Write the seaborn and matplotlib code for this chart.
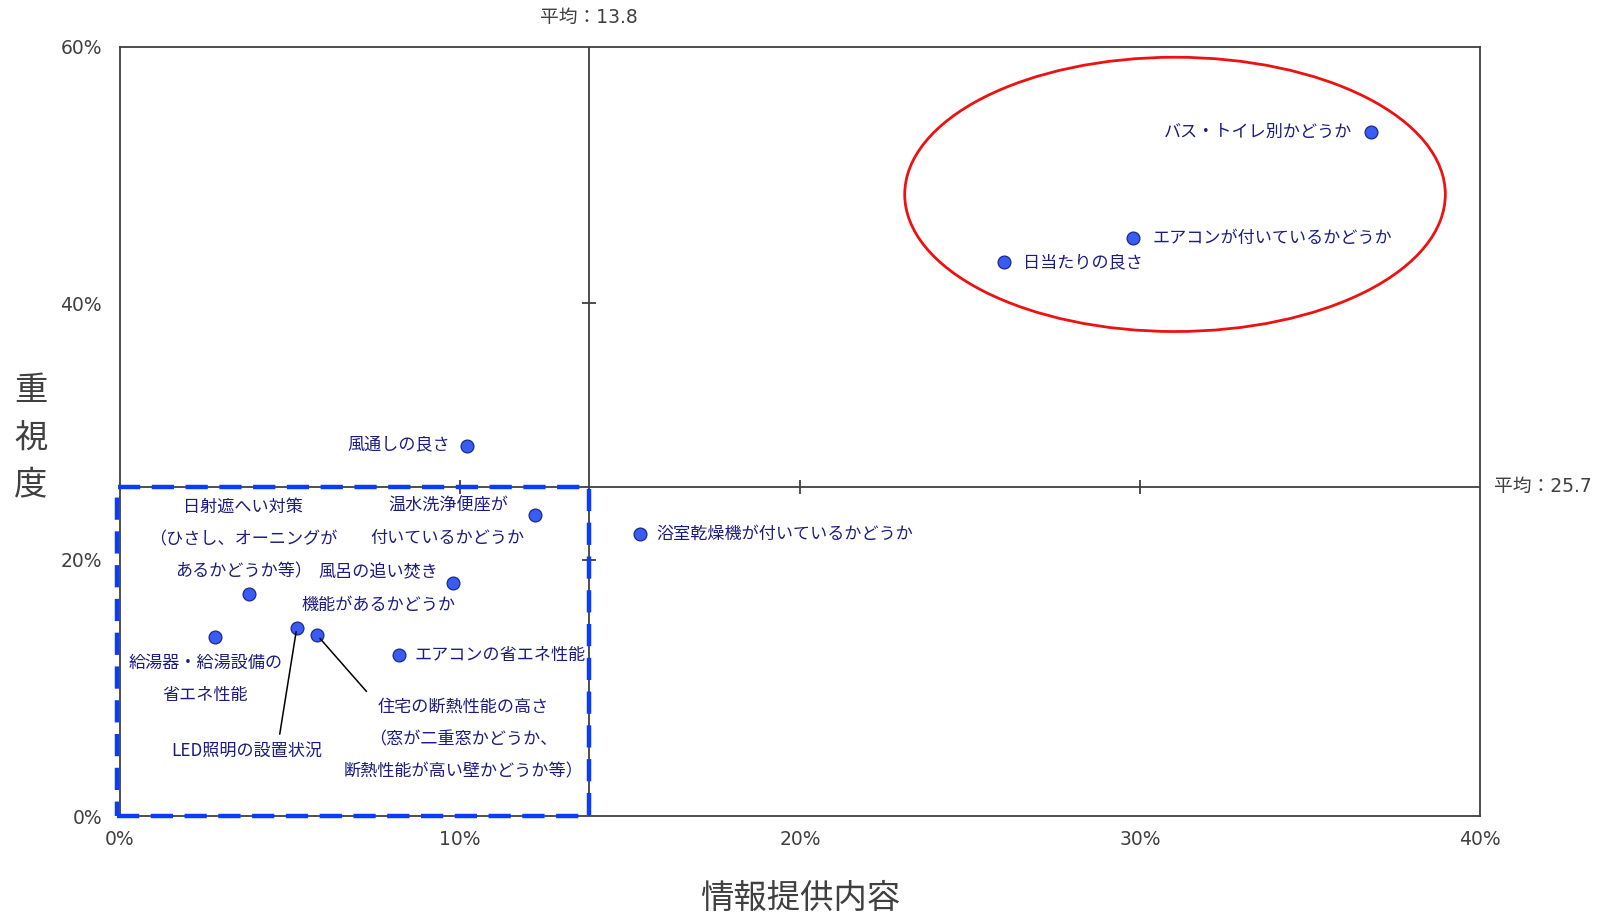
import matplotlib
matplotlib.use("Agg")
import matplotlib.pyplot as plt
from matplotlib.patches import Ellipse, Rectangle
import seaborn as sns
import pandas as pd

# ---- data ----
items = [
    "バス・トイレ別かどうか",
    "エアコンが付いているかどうか",
    "日当たりの良さ",
    "風通しの良さ",
    "温水洗浄便座が\n付いているかどうか",
    "浴室乾燥機が付いているかどうか",
    "日射遮へい対策\n（ひさし、オーニングが\nあるかどうか等）",
    "風呂の追い焚き\n機能があるかどうか",
    "給湯器・給湯設備の\n省エネ性能",
    "エアコンの省エネ性能",
    "LED照明の設置状況",
    "住宅の断熱性能の高さ\n（窓が二重窓かどうか、\n断熱性能が高い壁かどうか等）",
]
info_pct = [36.8, 29.8, 26.0, 10.2, 12.2, 15.3, 3.8, 9.8, 2.8, 8.2, 5.2, 5.8]
importance_pct = [53.4, 45.1, 43.2, 28.9, 23.5, 22.0, 17.3, 18.2, 14.0, 12.6, 14.7, 14.1]
mean_x = 13.8
mean_y = 25.7
x_ticks = [0, 10, 20, 30, 40]
y_ticks = [0, 20, 40, 60]
x_label = "情報提供内容"
y_label = "重視度"

# ---- label placement (pixel offsets, alignment, leader line) ----
label_style = [
    ((-19, 0), "right", None),
    ((19, 0), "left", None),
    ((19, 0), "left", None),
    ((-17, 0), "right", None),
    ((-87, -7), "center", None),
    ((16, 0), "left", None),
    ((-6, 55), "center", None),
    ((-75, -6), "center", None),
    ((-10, -42), "center", None),
    ((16, 0), "left", None),
    ((-50, -123), "center", (0.71, 1.0)),
    ((146, -104), "center", (0.12, 1.0)),
]

sns.set_theme(style="white")
plt.rcParams["font.family"] = ["Noto Sans CJK JP", "DejaVu Sans"]
num_family = ["DejaVu Sans", "Noto Sans CJK JP"]

df = pd.DataFrame({"item": items, "x": info_pct, "y": importance_pct})

fig = plt.figure(figsize=(16.05, 9.15), dpi=100)
ax = fig.add_axes([120 / 1605, 99 / 915, 1360 / 1605, 769 / 915])

axis_col = "#404040"
text_col = "#1c1c80"

sns.scatterplot(data=df, x="x", y="y", ax=ax, s=85, color="#3a5cf2",
                edgecolor="#1a2a8a", linewidth=0.9, zorder=5, legend=False)

ax.set_xlim(x_ticks[0], x_ticks[-1])
ax.set_ylim(y_ticks[0], y_ticks[-1])
ax.set_xticks(x_ticks)
ax.set_yticks(y_ticks)
ax.set_xticklabels([f"{v}%" for v in x_ticks], family=num_family)
ax.set_yticklabels([f"{v}%" for v in y_ticks], family=num_family)
ax.tick_params(axis="both", length=0, labelsize=13.5, colors=axis_col)
ax.tick_params(axis="x", pad=10)
ax.tick_params(axis="y", pad=13)
ax.set_xlabel("")
ax.set_ylabel("")
for sp in ax.spines.values():
    sp.set_color(axis_col)
    sp.set_linewidth(1.3)

# mean lines with cross ticks
ax.axvline(mean_x, color=axis_col, lw=1.3, zorder=2)
ax.axhline(mean_y, color=axis_col, lw=1.3, zorder=2)
ax.plot(x_ticks[1:-1], [mean_y] * (len(x_ticks) - 2), linestyle="none",
        marker="|", markersize=10, markeredgewidth=1.3, color=axis_col, zorder=2)
ax.plot([mean_x] * (len(y_ticks) - 2), y_ticks[1:-1], linestyle="none",
        marker="_", markersize=10, markeredgewidth=1.3, color=axis_col, zorder=2)

ax.annotate(f"平均：{mean_x}", xy=(mean_x, y_ticks[-1]), xytext=(0, 30),
            textcoords="offset pixels", ha="center", va="center",
            fontsize=13.5, color=axis_col, family=num_family, annotation_clip=False)
ax.annotate(f"平均：{mean_y}", xy=(x_ticks[-1], mean_y), xytext=(14, 0),
            textcoords="offset pixels", ha="left", va="center",
            fontsize=13.5, color=axis_col, family=num_family, annotation_clip=False)

# labels
for name, x, y, (off, ha, rel) in zip(items, info_pct, importance_pct, label_style):
    kw = {}
    if rel is not None:
        kw["arrowprops"] = dict(arrowstyle="-", color="black", lw=1.1,
                                relpos=rel, shrinkA=3, shrinkB=3)
    ax.annotate(name, xy=(x, y), xytext=off, textcoords="offset pixels",
                ha=ha, va="center", multialignment="center",
                fontsize=12.3, color=text_col, linespacing=2.03, zorder=6, **kw)

# highlight shapes
ax.add_patch(Ellipse((31.03, 48.5), 15.9, 21.4, fill=False,
                     edgecolor="#ee1111", lw=2.0, zorder=4))
ax.add_patch(Rectangle((-0.1, 0), mean_x + 0.1, mean_y, fill=False,
                       edgecolor="#0a3cff", lw=3.2, linestyle=(0, (5, 2.6)),
                       zorder=4, clip_on=False))

fig.text(0.4987, 0.018, x_label, ha="center", va="center",
         fontsize=24, color=axis_col)
fig.text(31 / 1605, 1 - 438 / 915, "\n".join(y_label), ha="center",
         va="center", fontsize=24, color=axis_col, linespacing=1.45)

fig.savefig("out.png", dpi=100)
